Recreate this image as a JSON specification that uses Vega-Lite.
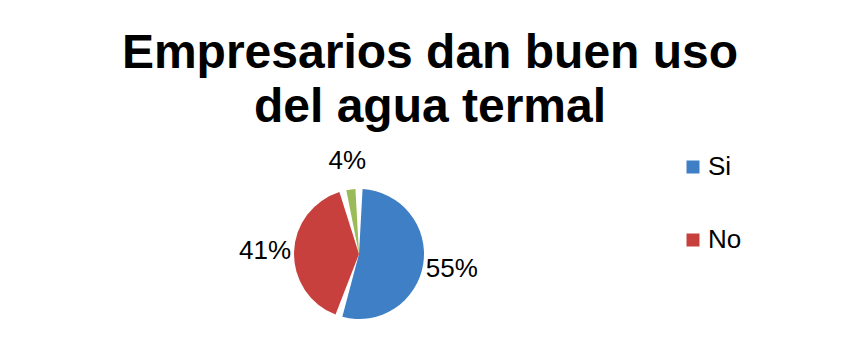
{
  "$schema": "https://vega.github.io/schema/vega-lite/v6.json",
  "autosize": {"type": "none"},
  "padding": {"top": 146, "left": 0, "right": 139, "bottom": 0},
  "width": 718,
  "height": 216,
  "background": "white",
  "config": {"view": {"stroke": null}, "font": "Liberation Sans"},
  "title": {
    "text": ["Empresarios dan buen uso", "del agua termal"],
    "font": "Liberation Sans",
    "fontSize": 48,
    "fontWeight": "bold",
    "lineHeight": 54,
    "color": "black",
    "anchor": "middle",
    "baseline": "bottom",
    "offset": -34,
    "dx": 71
  },
  "data": {
    "values": [
      {"respuesta": "Si", "porcentaje": 55, "orden": 1, "etiqueta": "55%"},
      {"respuesta": "No", "porcentaje": 41, "orden": 2, "etiqueta": "41%"},
      {"respuesta": "No sabe", "porcentaje": 4, "orden": 3, "etiqueta": "4%"}
    ]
  },
  "encoding": {
    "theta": {"field": "porcentaje", "type": "quantitative", "stack": true},
    "order": {"field": "orden", "type": "quantitative"}
  },
  "layer": [
    {
      "mark": {"type": "arc", "outerRadius": 65, "padAngle": 0.11},
      "encoding": {
        "color": {
          "field": "respuesta",
          "type": "nominal",
          "scale": {"domain": ["Si", "No", "No sabe"], "range": ["#3F7FC6", "#C8403D", "#9BBB59"]},
          "legend": {
            "values": ["Si", "No"],
            "title": null,
            "orient": "none",
            "legendX": 680,
            "legendY": 8,
            "symbolType": "square",
            "symbolSize": 169,
            "symbolStrokeWidth": 0,
            "labelFontSize": 26,
            "labelFont": "Liberation Sans",
            "labelColor": "black",
            "rowPadding": 47,
            "labelOffset": 2
          }
        }
      }
    },
    {
      "mark": {"type": "text", "radius": 94, "fontSize": 26, "font": "Liberation Sans", "color": "black"},
      "encoding": {"text": {"field": "etiqueta", "type": "nominal"}}
    }
  ]
}
